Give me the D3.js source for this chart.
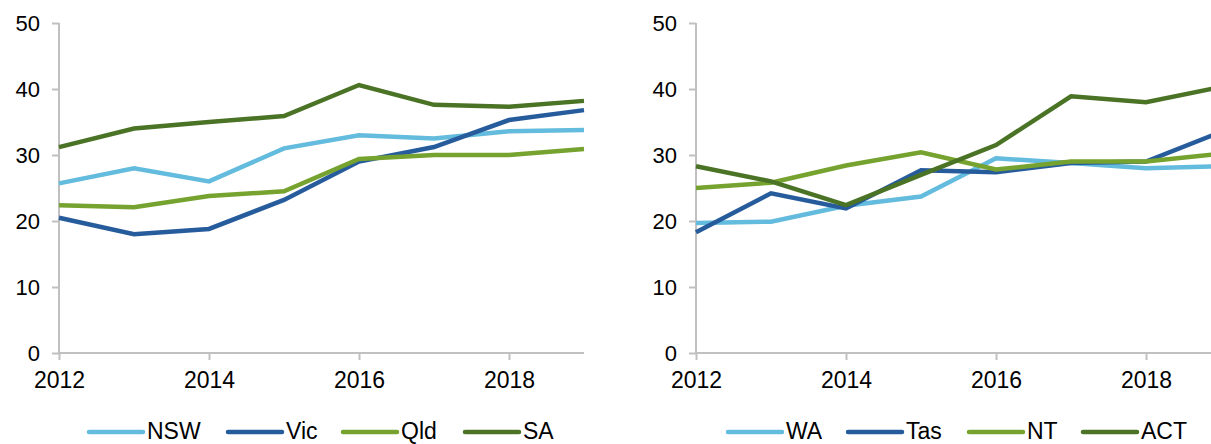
<!DOCTYPE html>
<html>
<head>
<meta charset="utf-8">
<script src="https://cdn.jsdelivr.net/npm/d3@7"></script>
<style>
  body { margin: 0; background: #fff; }
  svg { display: block; font-family: "Liberation Sans", Arial, sans-serif; }
</style>
</head>
<body>
<div id="chart"></div>
<script>
// years on the x axis
var years = [2012, 2013, 2014, 2015, 2016, 2017, 2018, 2019];
var xTicks = [2012, 2014, 2016, 2018];
var yTicks = [0, 10, 20, 30, 40, 50];

// left panel
var leftNames = ["NSW", "Vic", "Qld", "SA"];
var nsw = [25.7, 28.0, 26.0, 31.0, 33.0, 32.5, 33.6, 33.8];
var vic = [20.5, 18.0, 18.8, 23.2, 29.0, 31.2, 35.3, 36.8];
var qld = [22.4, 22.1, 23.8, 24.5, 29.4, 30.0, 30.0, 30.9];
var sa  = [31.2, 34.0, 35.0, 35.9, 40.6, 37.6, 37.3, 38.2];

// right panel
var rightNames = ["WA", "Tas", "NT", "ACT"];
var wa  = [19.7, 19.9, 22.3, 23.7, 29.5, 28.8, 28.0, 28.3];
var tas = [18.3, 24.2, 21.9, 27.7, 27.4, 28.8, 29.0, 33.5];
var nt  = [25.0, 25.8, 28.4, 30.4, 27.8, 29.0, 29.0, 30.2];
var act = [28.3, 26.0, 22.4, 27.0, 31.5, 38.9, 38.0, 40.3];

var colors = ["#63bbdd", "#275c9c", "#76a22f", "#4b7326"];

var svg = d3.select("#chart").append("svg")
  .attr("width", 1211)
  .attr("height", 444);

function panel(left, names, series, legendX) {
  var x = d3.scaleLinear().domain([2012, 2019]).range([left, left + 525]);
  var y = d3.scaleLinear().domain([0, 50]).range([353, 23]);
  var g = svg.append("g");

  // axis y
  var ay = g.append("g")
    .attr("transform", "translate(" + left + ",0)")
    .call(d3.axisLeft(y).tickValues(yTicks).tickSize(7).tickPadding(12));
  // axis x
  var ax = g.append("g")
    .attr("transform", "translate(0,353)")
    .call(d3.axisBottom(x).tickValues(xTicks).tickFormat(d3.format("d")).tickSize(7).tickPadding(12));

  [ay, ax].forEach(function(a) {
    a.select(".domain").attr("stroke", "#c0c0c0").attr("stroke-width", 2);
    a.selectAll(".tick line").attr("stroke", "#c0c0c0").attr("stroke-width", 2);
    a.selectAll("text").attr("fill", "#000")
      .style("font-family", "'Liberation Sans', Arial, sans-serif");
  });
  ay.selectAll("text").style("font-size", "22px");
  ax.selectAll("text").style("font-size", "23px");
  ax.select(".domain").attr("d", "M" + left + ",0H" + (left + 525));
  ay.select(".domain").attr("d", "M0," + y(50) + "V" + y(0));

  var line = d3.line()
    .x(function(d, i) { return x(years[i]); })
    .y(function(d) { return y(d); });

  series.forEach(function(s, i) {
    g.append("path")
      .datum(s)
      .attr("d", line)
      .attr("fill", "none")
      .attr("stroke", colors[i])
      .attr("stroke-width", 4.5)
      .attr("stroke-linejoin", "miter");
  });

  // legenda
  var lg = g.append("g").attr("transform", "translate(0,432)");
  names.forEach(function(n, i) {
    var lx = legendX[i];
    lg.append("line")
      .attr("x1", lx).attr("x2", lx + 54)
      .attr("y1", 0).attr("y2", 0)
      .attr("stroke", colors[i])
      .attr("stroke-width", 4.5)
      .attr("stroke-linecap", "round");
    lg.append("text")
      .attr("x", lx + 58)
      .attr("y", 7)
      .style("font-size", "23px")
      .attr("fill", "#000")
      .text(n);
  });
}

panel(59, leftNames, [nsw, vic, qld, sa], [89, 228, 343, 465]);
panel(696, rightNames, [wa, tas, nt, act], [728, 848, 969, 1083]);
</script>
</body>
</html>
